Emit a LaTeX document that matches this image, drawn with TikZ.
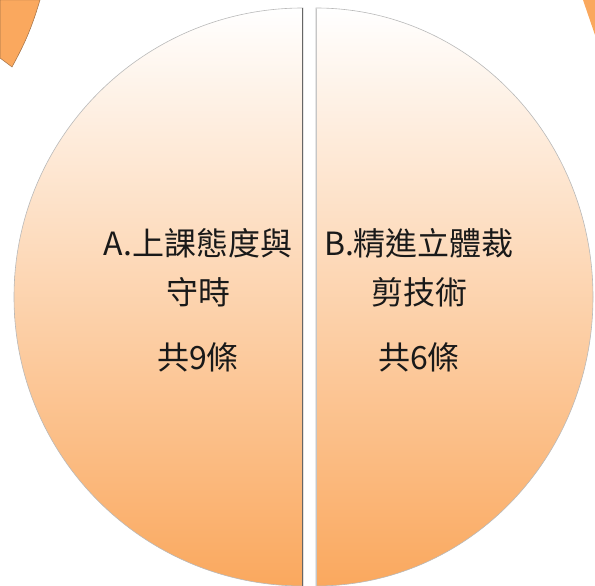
\documentclass[tikz,border=0pt]{standalone}
\usepackage{fontspec}
\newfontfamily\cjk{Noto Sans CJK TC}
\definecolor{peach}{RGB}{253,221,187}
\definecolor{deeporange}{RGB}{250,168,94}
\definecolor{edgebrown}{RGB}{160,112,70}
\tikzset{
  half/.style={top color=white, middle color=peach, bottom color=deeporange,
    draw=gray!55, line width=0.6pt},
  label/.style={font=\cjk\fontsize{32}{49}\selectfont, align=center, text=black!90},
}
\begin{document}
\begin{tikzpicture}[x=1pt,y=1pt]
    \useasboundingbox (0,0) rectangle (595,586);

    % corner pieces
    \fill[deeporange, draw=edgebrown, line width=0.5pt] (0,586) -- (40,586) to[bend left=6] (12,519) -- (0,528) -- cycle;
    \fill[deeporange] (583,586) -- (595,586) -- (595,551) -- cycle;

    % left half
    \shade[half] (303,578) arc[start angle=90, end angle=270, radius=289] -- cycle;
    % right half
    \shade[half] (316,578) arc[start angle=90, end angle=-90, x radius=277, y radius=289] -- cycle;

    % edges at the gap
    \draw[gray!80!black, line width=1.4pt] (302.5,578) -- (302.5,0);
    \draw[gray!45, line width=1pt] (316.5,577) -- (316.5,0);

    % texts
    \node[label] (titleA) at (198,318) {A.上課態度與\\守時};
    \node[label] (countA) at (198,229) {共9條};
    \node[label] (titleB) at (419,318) {B.精進立體裁\\剪技術};
    \node[label] (countB) at (419,229) {共6條};
\end{tikzpicture}
\end{document}
